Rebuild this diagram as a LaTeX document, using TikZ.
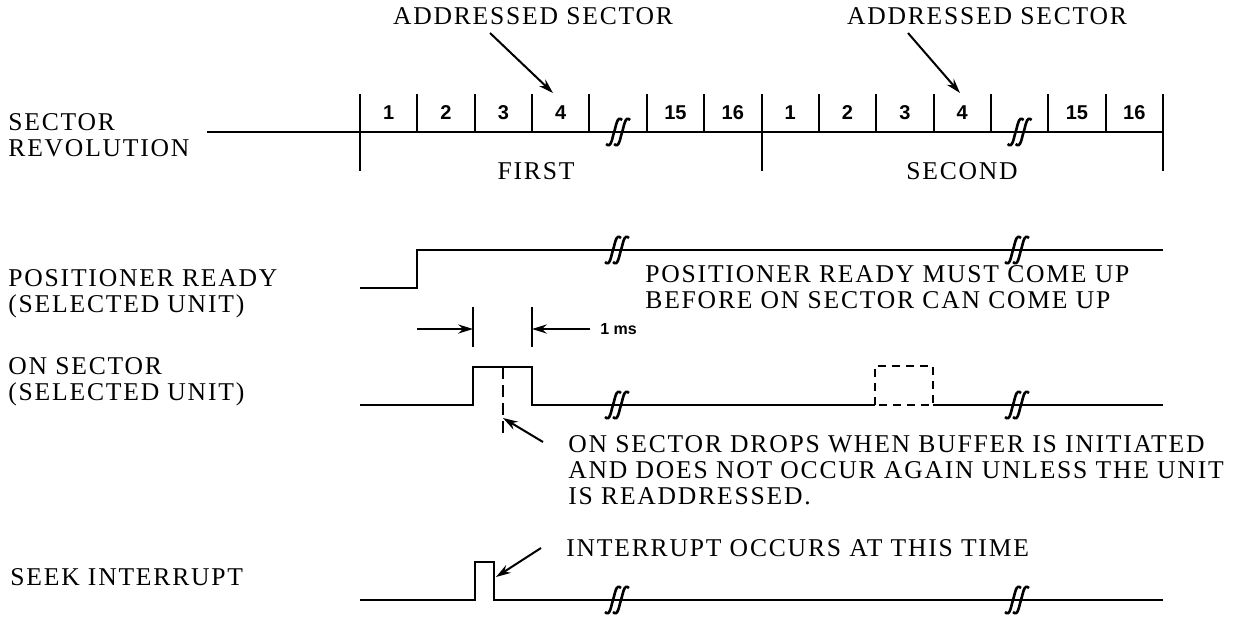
\documentclass[tikz,border=0pt]{standalone}
\usepackage{fontspec}
\usetikzlibrary{arrows.meta}
\newfontfamily\capsfont[LetterSpace=7]{Liberation Serif}
\newfontfamily\numfont{Liberation Sans}
\newcommand{\capsz}{\capsfont\fontsize{12.8}{13}\selectfont}
\newcommand{\brkstroke}[1]{\draw[line width=1.3pt] (#1-8,12) .. controls (#1-3,17) and (#1-2,6) .. (#1,0) .. controls (#1+2,-6) and (#1+3,-17) .. (#1+8,-12);}
\tikzset{
  wave/.style={line width=1.2pt, line join=miter},
  tickln/.style={line width=1pt},
  dashwave/.style={line width=1.2pt, dash pattern=on 4pt off 3pt},
  caplbl/.style={font=\capsz, inner sep=0pt, align=left, anchor=west},
  numlbl/.style={font=\numfont\bfseries\fontsize{10}{11}\selectfont, inner sep=0pt},
  arr/.style={-{Stealth[length=2.6mm, width=1.6mm]}, line width=1pt},
  brk/.pic={\brkstroke{-4}\brkstroke{4}}}

\begin{document}
\begin{tikzpicture}[x=0.5pt, y=-0.5pt]
        \useasboundingbox (0,0) rectangle (1243,617);
        \def\sw{57.36}

        \node[caplbl] (lblrev) at (8,135) {SECTOR\\REVOLUTION};
        \node[caplbl] (lblpos) at (8,294) {POSITIONER READY\\(SELECTED UNIT)};
        \node[caplbl] (lblon) at (8,382) {ON SECTOR\\(SELECTED UNIT)};
        \node[caplbl] (lblseek) at (10,577) {SEEK INTERRUPT};

        \node[caplbl, anchor=center] (hdra) at (533,16) {ADDRESSED SECTOR};
        \node[caplbl, anchor=center] (hdrb) at (987,16) {ADDRESSED SECTOR};

        \draw[wave] (207,132) -- (1163,132);
        \foreach \x in {360,761.5,1163}
          \draw[tickln] (\x,94) -- (\x,171);
        \foreach \r/\rx in {a/360,b/761.5}{
          \foreach \k in {1,...,6}
            \draw[tickln] (\rx+\k*\sw,94) -- (\rx+\k*\sw,132);
          \foreach \k/\t in {0/1,1/2,2/3,3/4,5/15,6/16}
            \node[numlbl] (sec\r\k) at (\rx+\k*\sw+\sw/2,113) {\t};
          \pic at (\rx+4.5*\sw,132) {brk};
        }
        \node[caplbl, anchor=center] (revfirst) at (536,171) {FIRST};
        \node[caplbl, anchor=center] (revsecond) at (962,171) {SECOND};

        \coordinate (taila) at (490,33);
        \coordinate (tipa) at (553,93);
        \coordinate (tailb) at (908,33);
        \coordinate (tipb) at (960,93);
        \draw[arr] (taila) -- (tipa);
        \draw[arr] (tailb) -- (tipb);

        \draw[wave] (360,288) -- (417,288) -- (417,250) -- (1163,250);
        \pic at (617,250) {brk};
        \pic at (1017,250) {brk};
        \node[caplbl] (posnote) at (645,287) {POSITIONER READY MUST COME UP\\BEFORE ON SECTOR CAN COME UP};

        \draw[tickln] (473,307) -- (473,347);
        \draw[tickln] (532,307) -- (532,347);
        \coordinate (msl) at (417,329);
        \coordinate (msrise) at (473,329);
        \coordinate (msr) at (590,329);
        \coordinate (msfall) at (532,329);
        \draw[arr] (msl) -- (msrise);
        \draw[arr] (msr) -- (msfall);
        \node[numlbl, font=\numfont\bfseries\fontsize{8}{9}\selectfont, anchor=west] (mslbl) at (600,329) {1 ms};

        \draw[wave] (360,405) -- (473,405) -- (473,367) -- (532,367) -- (532,405) -- (875,405);
        \draw[dashwave] (875,405) -- (875,366) -- (933,366) -- (933,405) -- cycle;
        \draw[wave] (933,405) -- (1163,405);
        \draw[tickln, dash pattern=on 6pt off 3pt] (503,367) -- (503,434);
        \pic at (617,405) {brk};
        \pic at (1017,405) {brk};
        \coordinate (ontail) at (543,442);
        \coordinate (ontip) at (503,418);
        \draw[arr] (ontail) -- (ontip);
        \node[caplbl] (onnote) at (568,470) {ON SECTOR DROPS WHEN BUFFER IS INITIATED\\AND DOES NOT OCCUR AGAIN UNLESS THE UNIT\\IS READDRESSED.};

        \draw[wave] (360,600) -- (475,600) -- (475,562) -- (494,562) -- (494,600) -- (1163,600);
        \pic at (617,600) {brk};
        \pic at (1017,600) {brk};
        \coordinate (seektail) at (541,548);
        \coordinate (seektip) at (496,577);
        \draw[arr] (seektail) -- (seektip);
        \node[caplbl] (seeknote) at (566,548) {INTERRUPT OCCURS AT THIS TIME};
\end{tikzpicture}
\end{document}
